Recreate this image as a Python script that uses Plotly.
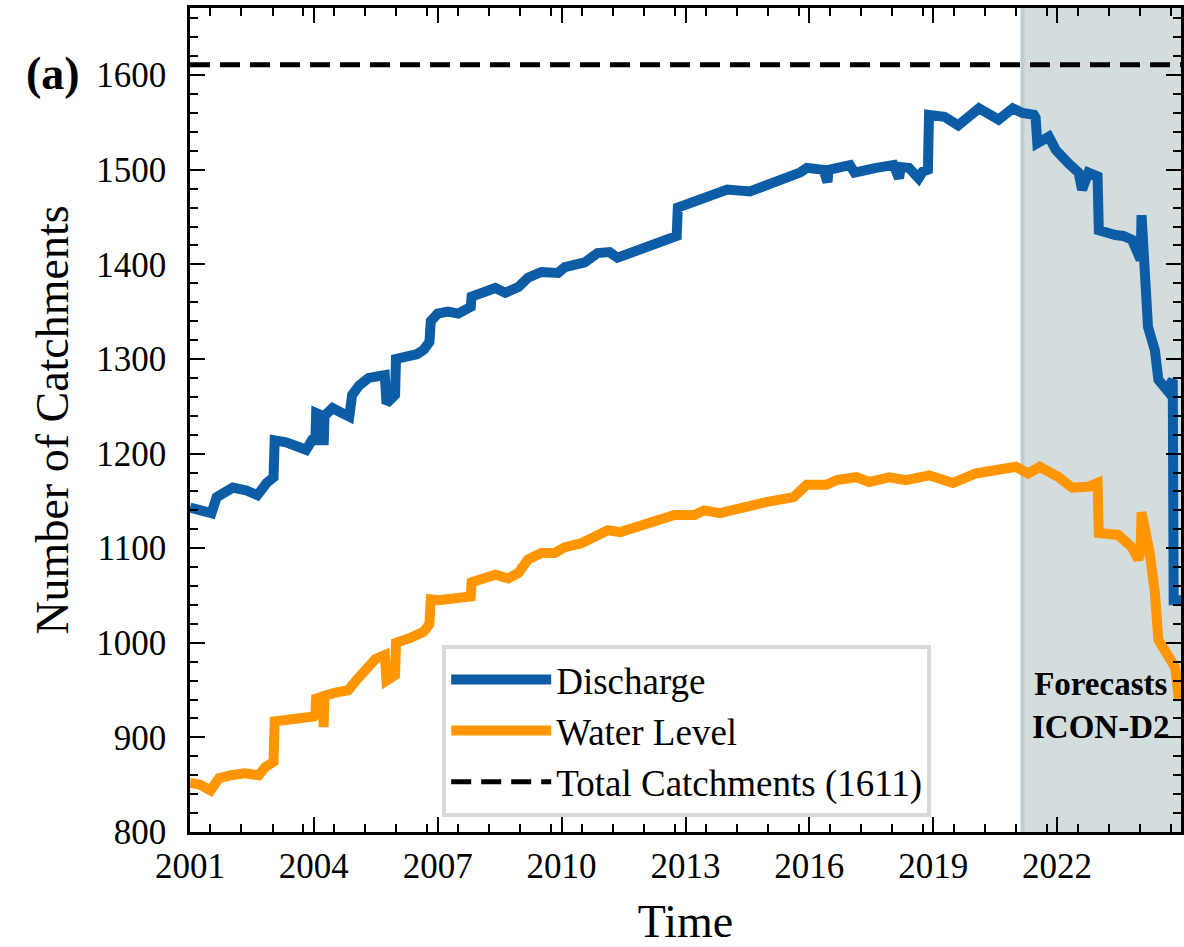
import plotly.graph_objects as go

# Discharge catchment counts (date, value)
discharge_dates = [
    "2001-01-01", "2001-04-01", "2001-07-10", "2001-08-25", "2002-01-15", "2002-05-15",
    "2002-08-20", "2002-11-10", "2003-01-10", "2003-01-20", "2003-05-01", "2003-10-25",
    "2003-12-15", "2004-01-15", "2004-01-22", "2004-03-20", "2004-03-28", "2004-04-05",
    "2004-06-15", "2004-11-10", "2004-12-05", "2005-02-05", "2005-05-01", "2005-09-01",
    "2005-09-20", "2005-10-05", "2005-12-20", "2005-12-28", "2006-04-01", "2006-07-01",
    "2006-09-01", "2006-10-20", "2006-11-01", "2007-01-01", "2007-04-01", "2007-07-01",
    "2007-10-20", "2007-10-28", "2008-05-25", "2008-08-20", "2008-12-15", "2009-03-10",
    "2009-07-05", "2009-12-01", "2010-01-30", "2010-07-25", "2010-11-15", "2011-03-01",
    "2011-05-10", "2011-11-01", "2012-05-25", "2012-09-20", "2012-10-15", "2012-10-25",
    "2013-06-15", "2014-01-05", "2014-07-25", "2014-11-25", "2015-06-15", "2015-10-10",
    "2015-12-10", "2016-05-05", "2016-06-10", "2016-06-20", "2016-12-25", "2017-02-05",
    "2017-08-15", "2018-01-15", "2018-03-05", "2018-03-20", "2018-06-01", "2018-08-25",
    "2018-10-01", "2018-11-15", "2018-11-25", "2019-04-10", "2019-08-10", "2020-02-10",
    "2020-08-01", "2020-12-05", "2021-03-01", "2021-06-10", "2021-06-25", "2021-07-10",
    "2021-10-20", "2021-12-20", "2022-04-10", "2022-07-10", "2022-08-10", "2022-10-05",
    "2022-12-25", "2023-01-05", "2023-06-01", "2023-08-10", "2023-10-25", "2023-12-20",
    "2024-01-10", "2024-01-18", "2024-03-15", "2024-05-15", "2024-06-15", "2024-08-30",
    "2024-10-20", "2024-10-28", "2025-01-01",
]
discharge_values = [
    1143, 1141, 1137, 1154, 1164, 1161,
    1156, 1169, 1175, 1214, 1212, 1204,
    1214, 1214, 1243, 1240, 1209, 1240,
    1248, 1239, 1262, 1272, 1280, 1284,
    1283, 1253, 1262, 1300, 1302, 1305,
    1310, 1318, 1340, 1348, 1350, 1348,
    1355, 1366, 1375, 1370, 1376, 1386,
    1392, 1391, 1397, 1402, 1412, 1413,
    1407, 1415, 1423, 1428, 1430, 1460,
    1470, 1479, 1477, 1482, 1491, 1497,
    1502, 1500, 1487, 1500, 1505, 1497,
    1502, 1505, 1491, 1503, 1502, 1491,
    1498, 1500, 1558, 1556, 1547, 1565,
    1553, 1565, 1560, 1558, 1555, 1528,
    1535, 1521, 1507, 1497, 1479, 1497,
    1493, 1436, 1431, 1430, 1426, 1408,
    1405, 1452, 1334, 1309, 1278, 1267,
    1278, 1045, 1045,
]

# Water level catchment counts
water_dates = [
    "2001-01-01", "2001-04-01", "2001-07-01", "2001-09-15", "2002-01-01", "2002-05-01",
    "2002-09-01", "2002-11-01", "2003-01-10", "2003-01-20", "2003-06-01", "2003-10-01",
    "2004-01-01", "2004-01-15", "2004-01-22", "2004-03-20", "2004-03-28", "2004-04-05",
    "2004-07-01", "2004-11-01", "2005-01-15", "2005-04-01", "2005-07-01", "2005-09-20",
    "2005-10-05", "2005-12-20", "2005-12-28", "2006-05-01", "2006-09-01", "2006-10-20",
    "2006-11-01", "2007-01-10", "2007-06-01", "2007-10-20", "2007-10-28", "2008-05-25",
    "2008-09-15", "2008-12-15", "2009-03-10", "2009-07-05", "2009-11-01", "2010-01-30",
    "2010-06-20", "2010-10-25", "2011-02-15", "2011-06-05", "2011-10-10", "2012-04-01",
    "2012-09-25", "2013-03-20", "2013-06-15", "2013-11-01", "2014-07-25", "2014-12-25",
    "2015-08-15", "2015-12-10", "2016-06-01", "2016-09-01", "2017-02-20", "2017-06-15",
    "2017-12-10", "2018-05-05", "2018-11-25", "2019-06-25", "2020-01-15", "2020-08-01",
    "2021-01-01", "2021-04-20", "2021-08-01", "2022-01-15", "2022-05-15", "2022-10-05",
    "2022-12-25", "2023-01-05", "2023-06-25", "2023-10-25", "2023-12-20", "2024-01-10",
    "2024-01-18", "2024-03-30", "2024-05-15", "2024-06-15", "2024-08-10", "2024-11-10",
    "2024-12-15",
]
water_values = [
    852, 850, 844, 857, 860, 862,
    860, 869, 874, 917, 919, 920,
    922, 924, 941, 943, 911, 944,
    947, 950, 961, 972, 983, 987,
    960, 966, 1000, 1005, 1012, 1020,
    1046, 1045, 1048, 1049, 1064, 1072,
    1068, 1074, 1088, 1095, 1095, 1101,
    1105, 1114, 1119, 1117, 1122, 1128,
    1135, 1135, 1140, 1137, 1146, 1149,
    1154, 1167, 1167, 1172, 1175, 1170,
    1175, 1172, 1177, 1169, 1179, 1183,
    1186, 1179, 1186, 1175, 1164, 1165,
    1169, 1116, 1114, 1101, 1088, 1096,
    1138, 1095, 1053, 1003, 992, 974,
    939,
]

total_catchments = 1611
x_range = ["2001-01-01", "2025-01-01"]
forecast_start = "2021-03-01"
y_range = [800, 1671]

serif = "Liberation Serif, Times New Roman, serif"

fig = go.Figure()

fig.add_vrect(x0=forecast_start, x1=x_range[1], fillcolor="rgb(212,221,222)",
              line_width=0, layer="below")
fig.add_vline(x=forecast_start, line_color="rgb(190,205,205)", line_width=4, layer="below")

fig.add_trace(go.Scatter(x=discharge_dates, y=discharge_values, mode="lines",
                         name="Discharge",
                         line=dict(color="#0C5DA5", width=10)))
fig.add_trace(go.Scatter(x=water_dates, y=water_values, mode="lines",
                         name="Water Level",
                         line=dict(color="#FF9500", width=10)))
fig.add_trace(go.Scatter(x=x_range, y=[total_catchments, total_catchments], mode="lines",
                         name=f"Total Catchments ({total_catchments})",
                         line=dict(color="black", width=5, dash="20px,10px")))

axis_common = dict(
    showline=True, linecolor="black", linewidth=2.5, mirror="allticks",
    ticks="inside", ticklen=15, tickwidth=2, tickcolor="black",
    showgrid=False, zeroline=False,
    tickfont=dict(family=serif, size=35, color="black"),
)

fig.update_xaxes(
    type="date", range=x_range, tick0="2001-01-01", dtick="M36", tickformat="%Y",
    minor=dict(ticks="inside", ticklen=8, tickwidth=2, tickcolor="black", dtick="M9"),
    title=dict(text="Time", font=dict(family=serif, size=46, color="black"), standoff=23),
    ticklabelstandoff=1,
    **axis_common,
)
fig.update_yaxes(
    range=y_range, tick0=800, dtick=100,
    minor=dict(ticks="inside", ticklen=8, tickwidth=2, tickcolor="black", dtick=20),
    title=dict(text="Number of Catchments", font=dict(family=serif, size=46, color="black"),
               standoff=14),
    ticklabelstandoff=14,
    **axis_common,
)

fig.add_annotation(text="<b>(a)</b>", xref="paper", yref="paper", x=-0.168, y=0.92,
                   xanchor="left", yanchor="middle", showarrow=False,
                   font=dict(family=serif, size=46, color="black"))
fig.add_annotation(text="<b>Forecasts<br>ICON-D2</b>", xref="paper", yref="paper",
                   x=0.9195, y=0.153, xanchor="center", yanchor="middle", showarrow=False,
                   font=dict(family=serif, size=33, color="black"))

fig.update_layout(
    width=1184, height=947,
    margin=dict(l=190, r=0, t=8, b=115),
    paper_bgcolor="white", plot_bgcolor="white",
    font=dict(family=serif, color="black"),
    legend=dict(x=0.2545, y=0.227, xanchor="left", yanchor="top",
                bgcolor="rgba(255,255,255,0.9)", bordercolor="#d9d9d9", borderwidth=4,
                font=dict(family=serif, size=37, color="black"),
                itemwidth=100, tracegroupgap=2),
    showlegend=True,
)

# drop the default page margin and scrollbars so the figure fills the window
fig.write_html("out.html", config={"displayModeBar": False}, post_script=(
    "document.body.style.margin='0';"
    "document.documentElement.style.overflow='hidden';"
    "document.body.style.overflow='hidden';"
))
